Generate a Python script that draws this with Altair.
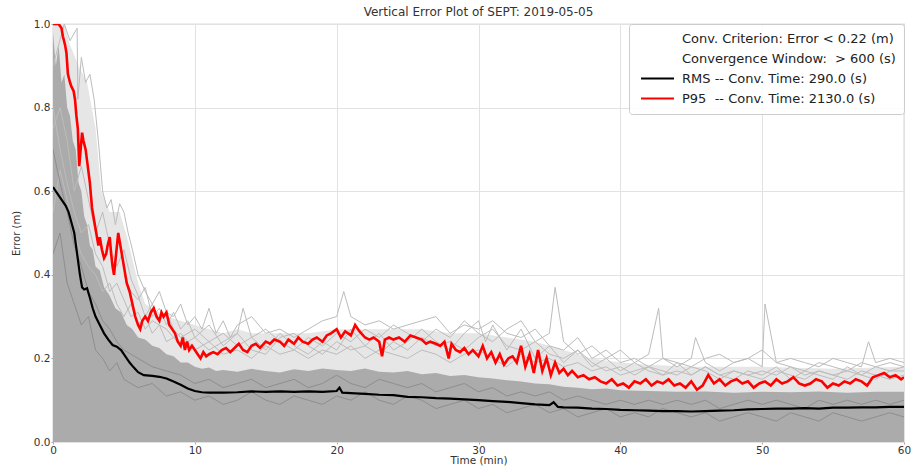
import altair as alt
import pandas as pd

TITLE = "Vertical Error Plot of SEPT: 2019-05-05"
X_TICKS = [0, 10, 20, 30, 40, 50, 60]
Y_TICKS = [0.0, 0.2, 0.4, 0.6, 0.8, 1.0]
LEGEND_LABELS = [
    "Conv. Criterion: Error < 0.22 (m)",
    "Convergence Window:\u00a0 > 600 (s)",
    "RMS -- Conv. Time: 290.0 (s)",
    "P95\u00a0 -- Conv. Time: 2130.0 (s)",
]

# P95 curve (time min, error m)
P95 = [(0.0,1.0),(0.2,1.0),(0.4,1.0),(0.6,0.99),(0.7,0.97),(0.85,0.95),(0.95,0.93),(1.05,0.88),(1.2,0.86),
       (1.3,0.85),(1.45,0.84),(1.55,0.82),(1.65,0.78),(1.75,0.75),(1.85,0.66),(1.95,0.70),(2.05,0.74),(2.15,0.72),
       (2.3,0.70),(2.45,0.66),(2.6,0.62),(2.75,0.56),(2.9,0.53),(3.05,0.50),(3.2,0.47),(3.3,0.49),(3.45,0.46),
       (3.6,0.44),(3.75,0.45),(3.85,0.47),(4.0,0.49),(4.1,0.45),(4.2,0.42),(4.3,0.40),(4.45,0.45),(4.6,0.50),
       (4.75,0.47),(4.9,0.44),(5.05,0.41),(5.2,0.38),(5.4,0.36),(5.6,0.33),(5.8,0.30),(6.0,0.28),(6.15,0.27),
       (6.3,0.29),(6.5,0.30),(6.7,0.29),(6.9,0.31),(7.1,0.32),(7.3,0.30),(7.5,0.29),(7.65,0.31),(7.8,0.30),
       (8.0,0.31),(8.2,0.28),(8.4,0.27),(8.6,0.26),(8.8,0.24),(9.0,0.23),(9.15,0.25),(9.3,0.22),(9.45,0.24),
       (9.6,0.22),(9.8,0.23),(10.0,0.22),(10.2,0.21),(10.4,0.20),(10.6,0.215),(10.8,0.205),(11.0,0.21),
       (11.3,0.215),(11.6,0.21),(11.9,0.22),(12.2,0.225),(12.5,0.215),(12.8,0.225),(13.1,0.235),(13.4,0.22),
       (13.7,0.215),(14.0,0.23),(14.3,0.235),(14.6,0.225),(15.0,0.24),(15.3,0.235),(15.6,0.245),(16.0,0.24),
       (16.3,0.23),(16.6,0.245),(17.0,0.235),(17.3,0.25),(17.6,0.24),(18.0,0.235),(18.3,0.245),(18.6,0.25),
       (19.0,0.24),(19.3,0.255),(19.6,0.26),(20.0,0.27),(20.3,0.25),(20.6,0.265),(21.0,0.255),(21.3,0.28),
       (21.6,0.265),(22.0,0.25),(22.3,0.245),(22.6,0.25),(23.0,0.24),(23.2,0.205),(23.4,0.245),(23.7,0.25),
       (24.0,0.245),(24.4,0.25),(24.8,0.24),(25.2,0.255),(25.6,0.25),(26.0,0.245),(26.3,0.235),(26.6,0.24),
       (27.0,0.235),(27.3,0.23),(27.6,0.24),(27.9,0.20),(28.1,0.235),(28.4,0.22),(28.7,0.215),(29.0,0.225),
       (29.3,0.21),(29.6,0.22),(30.0,0.205),(30.3,0.23),(30.6,0.20),(30.9,0.215),(31.2,0.19),(31.5,0.21),
       (31.8,0.185),(32.1,0.20),(32.4,0.205),(32.7,0.19),(33.0,0.23),(33.3,0.18),(33.6,0.21),(33.9,0.165),
       (34.2,0.22),(34.5,0.17),(34.8,0.20),(35.1,0.16),(35.4,0.19),(35.7,0.165),(36.0,0.175),(36.3,0.16),
       (36.6,0.17),(37.0,0.155),(37.4,0.16),(37.8,0.15),(38.2,0.155),(38.6,0.145),(39.0,0.14),(39.4,0.15),
       (39.8,0.135),(40.2,0.14),(40.6,0.13),(41.0,0.145),(41.4,0.14),(41.8,0.15),(42.2,0.135),(42.6,0.145),
       (43.0,0.14),(43.4,0.15),(43.8,0.135),(44.2,0.14),(44.6,0.13),(45.0,0.145),(45.4,0.125),(45.8,0.135),
       (46.2,0.16),(46.6,0.14),(47.0,0.15),(47.4,0.135),(47.8,0.145),(48.2,0.15),(48.6,0.14),(49.0,0.145),
       (49.4,0.13),(49.8,0.14),(50.2,0.145),(50.6,0.135),(51.0,0.15),(51.4,0.14),(51.8,0.145),(52.2,0.155),
       (52.6,0.14),(53.0,0.135),(53.4,0.14),(53.8,0.15),(54.2,0.145),(54.6,0.13),(55.0,0.14),(55.4,0.135),
       (55.8,0.145),(56.2,0.14),(56.6,0.15),(57.0,0.145),(57.4,0.135),(57.8,0.155),(58.2,0.16),(58.6,0.165),
       (59.0,0.155),(59.4,0.16),(59.8,0.15),(60.0,0.155)]

# RMS curve
RMS = [(0,0.61),(0.3,0.595),(0.6,0.58),(0.9,0.565),(1.1,0.55),(1.3,0.525),(1.5,0.50),(1.7,0.45),(1.9,0.40),
       (2.05,0.37),(2.2,0.365),(2.4,0.368),(2.6,0.345),(2.8,0.32),(3.0,0.30),(3.3,0.28),(3.6,0.26),(3.9,0.245),
       (4.2,0.232),(4.5,0.228),(4.8,0.22),(5.1,0.205),(5.4,0.19),(5.7,0.178),(6.0,0.167),(6.4,0.16),(7.0,0.158),
       (7.5,0.156),(8.0,0.152),(8.5,0.145),(9.0,0.137),(9.5,0.128),(10.0,0.122),(10.5,0.119),(11,0.118),
       (12,0.118),(13,0.119),(14,0.121),(15,0.12),(16,0.121),(17,0.12),(18,0.121),(19,0.12),(20,0.122),
       (20.2,0.13),(20.4,0.118),(21,0.117),(22,0.115),(23,0.113),(24,0.112),(25,0.108),(26,0.107),(27,0.105),
       (28,0.104),(29,0.102),(30,0.10),(31,0.098),(32,0.096),(33,0.093),(34,0.09),(35,0.088),(35.3,0.095),
       (35.6,0.084),(36,0.083),(37,0.082),(38,0.08),(39,0.079),(40,0.077),(41,0.076),(42,0.075),(43,0.074),
       (44,0.074),(45,0.073),(46,0.074),(47,0.075),(48,0.076),(49,0.078),(50,0.079),(51,0.08),(52,0.08),
       (53,0.081),(54,0.08),(55,0.082),(56,0.082),(57,0.083),(58,0.083),(59,0.084),(60,0.084)]

# faint upper reach of the individual session lines
HALO = [(0,1.0),(0.8,1.0),(1.2,0.95),(1.8,0.9),(2.4,0.86),(3.0,0.75),(3.4,0.6),(4,0.55),(4.7,0.55),(5.3,0.48),
        (6,0.38),(6.5,0.33),(7,0.32),(8,0.3),(9,0.29),(10,0.28),(11,0.27),(12,0.26),(13,0.27),(14,0.26),
        (16,0.26),(18,0.26),(20,0.27),(22,0.27),(24,0.27),(26,0.27),(28,0.26),(30,0.26),(32,0.25),(34,0.24),
        (36,0.22),(38,0.2),(40,0.19),(42,0.185),(45,0.18),(48,0.18),(50,0.18),(55,0.175),(60,0.18)]

# upper edge of the dense grey bundle of individual sessions
DENSE = [(0,0.98),(0.2,0.9),(0.4,0.95),(0.6,0.86),(0.8,0.88),(1.0,0.8),(1.2,0.78),(1.4,0.72),(1.6,0.7),(1.8,0.62),
         (2.0,0.6),(2.2,0.54),(2.4,0.52),(2.6,0.47),(2.8,0.46),(3.0,0.42),(3.3,0.41),(3.6,0.37),(4.0,0.35),
         (4.4,0.32),(4.8,0.31),(5.2,0.28),(5.6,0.27),(6.0,0.25),(6.5,0.245),(7,0.23),(7.5,0.225),(8,0.21),
         (8.5,0.205),(9,0.19),(9.5,0.19),(10,0.18),(10.5,0.175),(11,0.178),(11.5,0.17),(12,0.172),(13,0.168),
         (14,0.175),(15,0.17),(16,0.166),(17,0.174),(18,0.17),(19,0.176),(20,0.172),(21,0.17),(22,0.176),
         (23,0.168),(24,0.166),(25,0.17),(26,0.162),(27,0.165),(28,0.158),(29,0.16),(30,0.155),(31,0.152),
         (32,0.148),(33,0.145),(34,0.14),(35,0.138),(36,0.132),(37,0.13),(38,0.126),(39,0.128),(40,0.124),
         (42,0.122),(44,0.12),(46,0.121),(48,0.118),(50,0.12),(52,0.119),(54,0.121),(56,0.118),(58,0.12),(60,0.12)]

# light individual session lines reaching above the bundle
L1 = [(0,0.9),(0.8,1.0),(1.2,0.96),(1.7,0.99),(1.75,0.82),(2.0,0.92),(2.3,0.86),(2.6,0.88),(2.9,0.82),(3.2,0.72),
      (3.5,0.6),(3.8,0.56),(4.1,0.58),(4.4,0.52),(4.7,0.57),(5.0,0.55),(5.3,0.5),(5.6,0.46),(6.0,0.4),(6.5,0.36),
      (7.0,0.33),(7.5,0.36),(8.0,0.31),(8.5,0.3),(9,0.33),(9.5,0.28),(10,0.3),(10.5,0.27),(11,0.32),(11.5,0.26),
      (12,0.29),(12.5,0.25),(13,0.28),(14,0.3),(15,0.26),(16,0.27),(17,0.25),(18,0.27),(19,0.29),(20,0.3),
      (20.5,0.36),(21,0.3),(22,0.28),(23,0.29),(24,0.27),(25,0.28),(26,0.29),(27,0.3),(28,0.26),(29,0.28),
      (30,0.27),(31,0.29),(32,0.26),(33,0.25),(34,0.27),(35,0.23),(36,0.22),(37,0.25),(38,0.2),(39,0.22),
      (40,0.19),(41,0.2),(42,0.18),(43,0.2),(44,0.19),(45,0.18),(46,0.2),(47,0.21),(48,0.19),(49,0.2),(50,0.22),
      (51,0.19),(52,0.18),(53,0.17),(54,0.19),(55,0.18),(56,0.17),(57,0.19),(58,0.18),(59,0.19),(60,0.18)]
L2 = [(0,0.75),(0.5,0.8),(1,0.72),(1.5,0.6),(2,0.66),(2.5,0.58),(3,0.5),(3.5,0.55),(4,0.47),(4.5,0.42),(5,0.46),
      (5.5,0.39),(6,0.35),(6.5,0.3),(7,0.33),(7.5,0.29),(8,0.31),(8.5,0.27),(9,0.25),(10,0.27),(11,0.24),(12,0.26),
      (13,0.23),(14,0.25),(15,0.27),(16,0.24),(17,0.22),(18,0.25),(19,0.23),(20,0.26),(21,0.24),(22,0.27),
      (23,0.25),(24,0.28),(25,0.26),(26,0.24),(27,0.27),(28,0.25),(29,0.29),(30,0.26),(31,0.24),(32,0.27),
      (33,0.29),(34,0.24),(35,0.26),(35.4,0.37),(36,0.24),(37,0.21),(38,0.23),(39,0.2),(40,0.22),(41,0.19),
      (42,0.21),(42.7,0.32),(43,0.2),(44,0.18),(45,0.2),(45.3,0.25),(46,0.19),(47,0.17),(48,0.19),(49,0.2),
      (50,0.18),(50.2,0.33),(51,0.19),(52,0.2),(53,0.19),(54,0.18),(55,0.2),(56,0.19),(57,0.18),(57.5,0.24),
      (58,0.19),(59,0.2),(60,0.19)]
L3 = [(0,0.55),(0.5,0.65),(1,0.58),(1.5,0.5),(2,0.45),(2.5,0.42),(3,0.4),(3.5,0.36),(4,0.38),(4.5,0.33),(5,0.3),
      (5.5,0.33),(6,0.28),(6.5,0.3),(7,0.26),(7.5,0.28),(8,0.24),(9,0.26),(10,0.22),(11,0.24),(12,0.21),(13,0.22),
      (14,0.2),(15,0.23),(16,0.21),(17,0.22),(18,0.2),(19,0.22),(20,0.21),(21,0.23),(22,0.2),(23,0.22),(24,0.21),
      (25,0.2),(26,0.22),(27,0.21),(28,0.19),(29,0.21),(30,0.22),(31,0.2),(32,0.18),(33,0.21),(34,0.19),(35,0.2),
      (36,0.18),(37,0.19),(38,0.17),(39,0.18),(40,0.16),(41,0.17),(42,0.18),(43,0.16),(44,0.17),(45,0.16),
      (46,0.18),(47,0.16),(48,0.17),(49,0.16),(50,0.17),(51,0.16),(52,0.18),(53,0.16),(54,0.17),(55,0.16),
      (56,0.17),(57,0.16),(58,0.18),(59,0.17),(60,0.18)]
L4 = [(0,0.8),(0.5,0.7),(1,0.62),(1.5,0.55),(2,0.5),(2.5,0.52),(3,0.45),(3.5,0.42),(4,0.36),(4.5,0.38),(5,0.34),
      (5.5,0.3),(6,0.31),(6.5,0.27),(7,0.29),(8,0.27),(9,0.23),(10,0.25),(11,0.22),(12,0.24),(13,0.26),(14,0.22),
      (15,0.21),(16,0.25),(17,0.26),(18,0.23),(19,0.21),(20,0.24),(21,0.22),(22,0.23),(23,0.21),(24,0.24),
      (25,0.22),(26,0.25),(27,0.23),(28,0.24),(29,0.22),(30,0.25),(31,0.27),(32,0.23),(33,0.22),(34,0.24),
      (35,0.21),(36,0.2),(37,0.22),(38,0.19),(39,0.17),(40,0.18),(41,0.16),(42,0.18),(43,0.17),(44,0.16),
      (45,0.18),(46,0.17),(47,0.15),(48,0.17),(49,0.16),(50,0.15),(51,0.17),(52,0.16),(53,0.15),(54,0.17),
      (55,0.16),(56,0.15),(57,0.17),(58,0.16),(59,0.15),(60,0.16)]
L5 = [(5,0.4),(5.5,0.36),(6,0.34),(6.5,0.37),(7,0.3),(7.5,0.32),(8,0.28),(8.5,0.31),(9,0.27),(9.5,0.29),(10,0.25),
      (11,0.28),(12,0.23),(13,0.26),(13.4,0.32),(14,0.25),(15,0.22),(16,0.26),(17,0.23),(18,0.21),(19,0.24),
      (20,0.22),(21,0.27),(22,0.23),(23,0.26),(24,0.22),(25,0.24),(26,0.27),(27,0.24),(28,0.22),(29,0.26),
      (30,0.29),(30.5,0.24),(31,0.28),(32,0.22),(33,0.27),(34,0.2),(35,0.23),(36,0.19),(37,0.22),(38,0.18),
      (39,0.2),(40,0.17),(41,0.19),(42,0.17),(43,0.16),(44,0.19),(45,0.16),(46,0.18),(47,0.16),(48,0.15),
      (49,0.17),(50,0.16),(51,0.18),(52,0.15),(53,0.17),(54,0.16),(55,0.15),(56,0.18),(57,0.16),(58,0.15),
      (59,0.17),(60,0.17)]

# darker session lines inside the bundle
D1 = [(0,0.45),(0.5,0.5),(1,0.38),(1.5,0.33),(2,0.28),(2.5,0.3),(3,0.22),(3.5,0.2),(4,0.17),(4.5,0.19),(5,0.15),
      (6,0.13),(7,0.14),(8,0.11),(9,0.12),(10,0.1),(11,0.11),(12,0.09),(13,0.1),(14,0.12),(15,0.1),(16,0.09),
      (17,0.11),(18,0.1),(19,0.09),(20,0.11),(21,0.1),(22,0.12),(23,0.1),(24,0.09),(25,0.11),(26,0.1),(27,0.08),
      (28,0.09),(29,0.1),(30,0.08),(31,0.09),(32,0.07),(33,0.08),(34,0.09),(35,0.07),(36,0.08),(37,0.06),
      (38,0.07),(39,0.08),(40,0.06),(41,0.07),(42,0.06),(43,0.08),(44,0.07),(45,0.06),(46,0.07),(47,0.05),
      (48,0.06),(49,0.07),(50,0.06),(51,0.05),(52,0.07),(53,0.06),(54,0.05),(55,0.07),(56,0.06),(57,0.05),
      (58,0.06),(59,0.07),(60,0.06)]
D2 = [(0,0.7),(0.5,0.62),(1,0.55),(1.5,0.47),(2,0.42),(2.5,0.36),(3,0.33),(3.5,0.29),(4,0.27),(4.5,0.24),
      (5,0.22),(6,0.2),(7,0.18),(8,0.17),(9,0.16),(10,0.14),(11,0.15),(12,0.13),(13,0.14),(14,0.15),(15,0.13),
      (16,0.14),(17,0.15),(18,0.13),(19,0.14),(20,0.16),(21,0.14),(22,0.13),(23,0.15),(24,0.14),(25,0.13),
      (26,0.14),(27,0.12),(28,0.13),(29,0.14),(30,0.12),(31,0.13),(32,0.11),(33,0.12),(34,0.11),(35,0.12),
      (36,0.1),(37,0.11),(38,0.1),(39,0.09),(40,0.1),(41,0.09),(42,0.1),(43,0.09),(44,0.1),(45,0.09),(46,0.1),
      (47,0.08),(48,0.09),(49,0.1),(50,0.09),(51,0.1),(52,0.09),(53,0.08),(54,0.1),(55,0.09),(56,0.1),
      (57,0.09),(58,0.1),(59,0.09),(60,0.1)]


def frame(pairs, name):
    return pd.DataFrame({"t": [p[0] for p in pairs], "v": [p[1] for p in pairs], "series": name})


FONT = "DejaVu Sans"
x_enc = alt.X("t:Q", scale=alt.Scale(domain=[0, 60], nice=False),
              axis=alt.Axis(values=X_TICKS, title="Time (min)", labelFlush=False))
y_enc = alt.Y("v:Q", scale=alt.Scale(domain=[0, 1], nice=False),
              axis=alt.Axis(values=Y_TICKS, format=".1f", title="Error (m)"))

halo = alt.Chart(frame(HALO, "halo")).mark_area(color="#e6e6e6", clip=True).encode(x=x_enc, y=y_enc)

dense = alt.Chart(frame(DENSE, "dense")).mark_area(color="#ababab", clip=True).encode(x=x_enc, y=y_enc)

light = alt.Chart(pd.concat([frame(L1, "L1"), frame(L2, "L2"), frame(L3, "L3"), frame(L4, "L4"),
                             frame(L5, "L5")])).mark_line(strokeWidth=1, clip=True).encode(
    x=x_enc, y=y_enc, detail="series:N", color=alt.value("#bcbcbc"))

dark = alt.Chart(pd.concat([frame(D1, "D1"), frame(D2, "D2")])).mark_line(
    strokeWidth=1, clip=True).encode(
    x=x_enc, y=y_enc, detail="series:N", color=alt.value("#8e8e8e"))

color_scale = alt.Scale(domain=LEGEND_LABELS, range=["transparent", "transparent", "#000000", "#ff0000"])
legend = alt.Legend(
    title=None, orient="top-right", offset=0, padding=8, symbolType="M-0.45,0H5.55", symbolSize=121,
    symbolStrokeWidth=2, labelOffset=32, labelFontSize=13, labelFont=FONT, labelColor="#222222",
    rowPadding=6, fillColor="rgba(255,255,255,0.85)", strokeColor="#cccccc", cornerRadius=3, labelLimit=0,
)

rms = alt.Chart(frame(RMS, LEGEND_LABELS[2])).mark_line(strokeWidth=2.2, clip=True).encode(
    x=x_enc, y=y_enc, color=alt.Color("series:N", scale=color_scale, legend=legend))
p95 = alt.Chart(frame(P95, LEGEND_LABELS[3])).mark_line(strokeWidth=2.6, clip=True).encode(
    x=x_enc, y=y_enc, color=alt.Color("series:N", scale=color_scale, legend=legend))

chart = alt.layer(halo, dense, light, dark, rms, p95).properties(
    width=851, height=418,
    title=alt.TitleParams(TITLE, fontSize=12, fontWeight="normal", font=FONT, color="#333333",
                          offset=0, frame="group"),
    autosize=alt.AutoSizeParams(type="none"),
    padding={"left": 53, "top": 24, "right": 7, "bottom": 26},
).configure_view(stroke="#bbbbbb", strokeWidth=1.2).configure_axis(
    labelFont=FONT, titleFont=FONT, labelFontSize=10.5, titleFontWeight="normal",
    labelColor="#333333", titleColor="#333333", gridColor="#e2e2e2", gridWidth=1, domain=False,
    tickSize=2, tickColor="#aaaaaa", labelPadding=1,
).configure_axisY(titlePadding=12, titleFontSize=10).configure_axisX(titlePadding=0, titleFontSize=10.5)

chart.save("out.html", embed_options={"renderer": "svg", "actions": False})
